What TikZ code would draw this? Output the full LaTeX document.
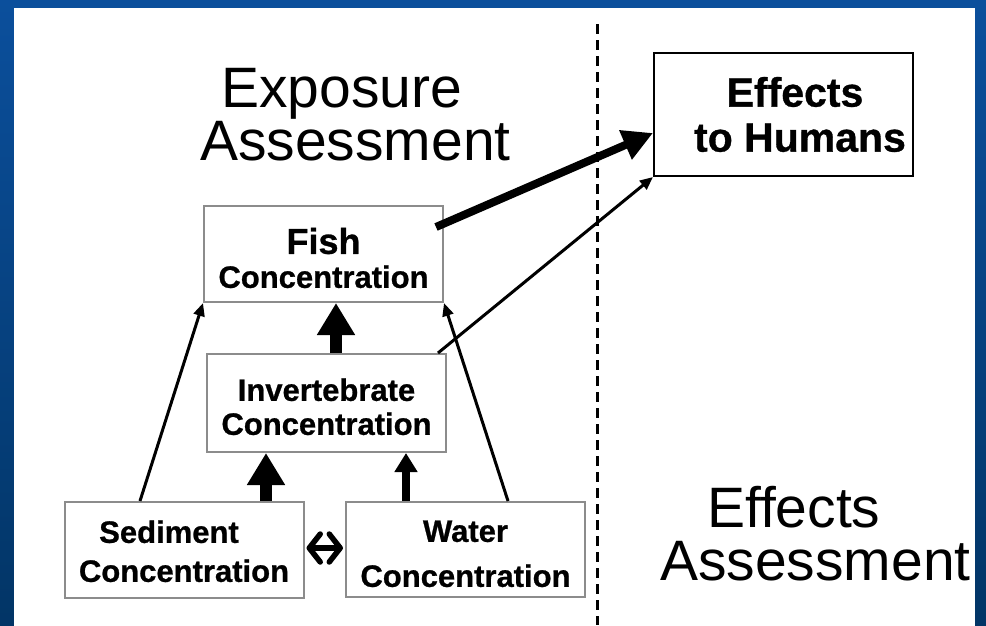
\documentclass[tikz,border=0pt]{standalone}
\usepackage{fontspec}
\setmainfont[BoldFeatures={FakeBold=0.8}]{Liberation Sans}
\usetikzlibrary{arrows.meta,calc}
\definecolor{frametop}{HTML}{0B4F9C}
\definecolor{framebot}{HTML}{023566}
\definecolor{boxgray}{HTML}{8C8C8C}
\tikzset{
  concbox/.style={draw=boxgray, line width=2pt, fill=white, inner sep=0pt,
    minimum width=239pt, minimum height=96pt, align=center,
    font=\bfseries\fontsize{31}{34}\selectfont},
  humanbox/.style={draw=black, line width=2pt, fill=white, inner sep=0pt,
    minimum width=259pt, minimum height=123pt, align=center,
    font=\bfseries\fontsize{41}{45}\selectfont},
  heading/.style={anchor=base west, inner sep=0pt, font=\fontsize{57}{57}\selectfont},
  thinarrow/.style={line width=3pt, -{Triangle[length=13pt,width=11pt]}},
  fatarrow/.style={line width=8pt, -{Triangle[length=30pt,width=30pt]}},
  bigup/.style={line width=12pt, -{Triangle[length=32pt,width=36pt]}},
  midup/.style={line width=8pt, -{Triangle[length=19pt,width=22pt]}},
  twoway/.style={line width=5.5pt, {Straight Barb[length=11pt,width=28pt,round]}-{Straight Barb[length=11pt,width=28pt,round]}},
  divider/.style={line width=3pt, dash pattern=on 10pt off 6pt}
}
\begin{document}
\begin{tikzpicture}[x=1pt,y=-1pt]
\useasboundingbox (0,0) rectangle (986,625);
% slide frame and white page
\shade[top color=frametop, bottom color=framebot] (0,0) rectangle (986,625);
\fill[white] (14,8) rectangle (975,627);

% headings
\node[heading] (expo1) at (221,107) {Exposure};
\node[heading] (expo2) at (200,160) {Assessment};
\node[heading] (eff1) at (707,527) {Effects};
\node[heading] (eff2) at (660,580) {Assessment};

% divider between exposure and effects
\coordinate (dtop) at (597,24);
\coordinate (dbot) at (597,625);
\draw[divider] (dtop) -- (dbot);

% concentration boxes
\node[concbox] (fish) at (323.5,254)
  {\rule{0pt}{34pt}{\fontsize{36}{34}\selectfont Fish}\\Concentration};
\node[concbox, minimum height=98pt, font=\bfseries\fontsize{31}{34}\selectfont] (inv) at (326.5,403)
  {\rule{0pt}{30pt}Invertebrate\\Concentration};
\node[concbox, font=\bfseries\fontsize{31}{39}\selectfont] (sed) at (184,550)
  {\rule{0pt}{25pt}Sediment\hspace*{30pt}\\Concentration};
\node[concbox, minimum height=95pt, font=\bfseries\fontsize{31}{45}\selectfont] (wat) at (465.5,549.5)
  {\rule{0pt}{30pt}Water\\Concentration};
\node[humanbox] (hum) at (783.5,114.5)
  {\hspace*{23pt}Effects\\\hspace*{33pt}to Humans};

% transfer between compartments
\draw[thinarrow] ($(sed.north)+(-44,0)$) -- (fish.south west);
\draw[thinarrow] ($(wat.north)+(42.5,0)$) -- (fish.south east);
\draw[bigup] ($(inv.north)+(9.5,0)$) -- ($(fish.south)+(12.5,0)$);
\draw[bigup] ($(sed.north)+(82,0)$) -- ($(inv.south)+(-60.5,0)$);
\draw[midup] ($(wat.north)+(-59.5,0)$) -- ($(inv.south)+(79.5,0)$);
\draw[twoway] ($(sed.east)+(2,-2)$) -- ($(wat.west)+(-2,-1.5)$);

% pathways to humans
\draw[fatarrow] ($(fish.north east)+(-8,22)$) -- ($(hum.west)+(0,18.5)$);
\draw[thinarrow] ($(inv.north east)+(-9,0)$) -- (hum.south west);
\end{tikzpicture}
\end{document}
